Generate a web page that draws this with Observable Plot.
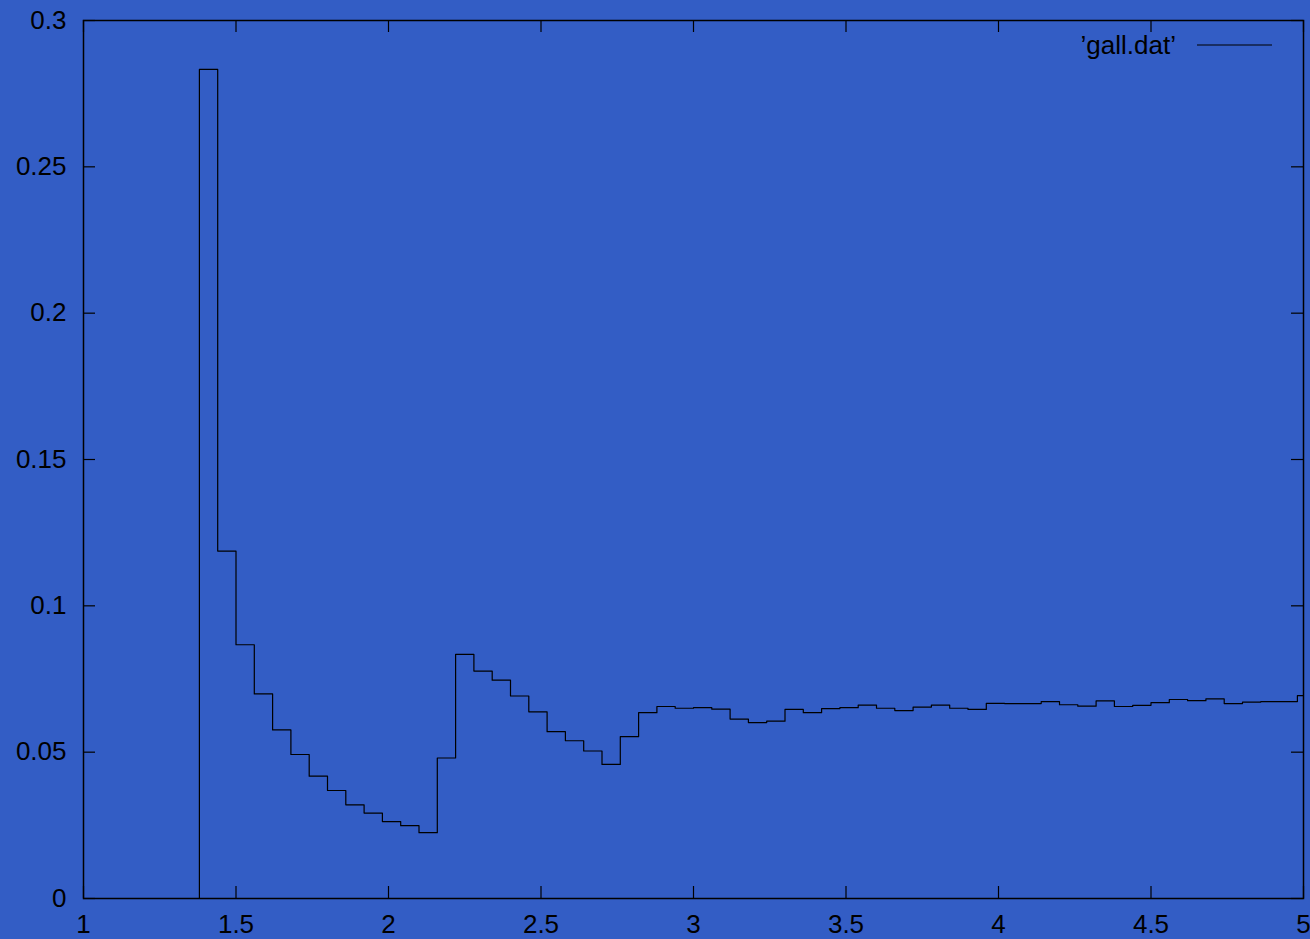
<!DOCTYPE html>
<html>
<head>
<meta charset="utf-8">
<script src="https://cdn.jsdelivr.net/npm/d3@7"></script>
<script src="https://cdn.jsdelivr.net/npm/@observablehq/plot@0.6"></script>
<style>
  html, body { margin: 0; padding: 0; background: #335dc5; }
  #chart svg { display: block; }
</style>
</head>
<body>
<div id="chart"></div>
<script>
// Histogram bin left edges (x) and heights (y)
const binStarts = [
  1.38, 1.44, 1.50, 1.56, 1.62, 1.68, 1.74, 1.80, 1.86, 1.92,
  1.98, 2.04, 2.10, 2.16, 2.22, 2.28, 2.34, 2.40, 2.46, 2.52,
  2.58, 2.64, 2.70, 2.76, 2.82, 2.88, 2.94, 3.00, 3.06, 3.12,
  3.18, 3.24, 3.30, 3.36, 3.42, 3.48, 3.54, 3.60, 3.66, 3.72,
  3.78, 3.84, 3.90, 3.96, 4.02, 4.08, 4.14, 4.20, 4.26, 4.32,
  4.38, 4.44, 4.50, 4.56, 4.62, 4.68, 4.74, 4.80, 4.86, 4.92,
  4.98
];
const binValues = [
  0.2833, 0.1187, 0.0867, 0.0699, 0.0576, 0.0492, 0.0418, 0.0369, 0.0320, 0.0292,
  0.0263, 0.0249, 0.0225, 0.0480, 0.0834, 0.0777, 0.0746, 0.0692, 0.0638, 0.0570,
  0.0539, 0.0504, 0.0458, 0.0553, 0.0635, 0.0656, 0.0650, 0.0652, 0.0647, 0.0613,
  0.0601, 0.0606, 0.0646, 0.0635, 0.0649, 0.0652, 0.0661, 0.0650, 0.0642, 0.0654,
  0.0661, 0.0650, 0.0646, 0.0667, 0.0666, 0.0666, 0.0673, 0.0662, 0.0657, 0.0675,
  0.0656, 0.0660, 0.0669, 0.0680, 0.0676, 0.0682, 0.0666, 0.0671, 0.0673, 0.0673,
  0.0693
];
const xDomain = [1, 5];
const yDomain = [0, 0.3];
const xTicks = [1, 1.5, 2, 2.5, 3, 3.5, 4, 4.5, 5];
const yTicks = [0, 0.05, 0.1, 0.15, 0.2, 0.25, 0.3];
const seriesName = "\u2019gall.dat\u2019";

// Build step path: rise from zero at first edge, then each bin, extended to x-domain end
const steps = [{x: binStarts[0], y: 0}];
binStarts.forEach((x, i) => steps.push({x, y: binValues[i]}));
steps.push({x: xDomain[1], y: binValues[binValues.length - 1]});

const FONT = "'Liberation Sans', Arial, Helvetica, sans-serif";

const legend = (index, scales, values, dims) => {
  const g = d3.create("svg:g");
  const right = dims.width - dims.marginRight;
  const yy = dims.marginTop + 25;
  g.append("text")
    .attr("x", right - 127)
    .attr("y", yy + 1)
    .attr("dy", "0.32em")
    .attr("text-anchor", "end")
    .attr("font-family", FONT)
    .attr("font-size", 26)
    .attr("fill", "black")
    .text(seriesName);
  g.append("line")
    .attr("x1", right - 106)
    .attr("x2", right - 31)
    .attr("y1", yy)
    .attr("y2", yy)
    .attr("stroke", "black")
    .attr("stroke-width", 1.2);
  return g.node();
};

const chart = Plot.plot({
  width: 1310,
  height: 939,
  marginLeft: 83,
  marginRight: 7,
  marginTop: 20,
  marginBottom: 41,
  style: {background: "#335dc5", fontFamily: FONT, fontSize: "26px", color: "black"},
  x: {domain: xDomain, label: null},
  y: {domain: yDomain, label: null},
  marks: [
    Plot.axisX({ticks: xTicks, tickSize: 0, tickPadding: 16, tickFormat: d => String(d), fontSize: 26, label: null}),
    Plot.axisY({ticks: yTicks, tickSize: 0, tickPadding: 17, tickFormat: d => String(d), fontSize: 26, label: null}),
    // inward tick marks on all four sides
    Plot.ruleX(xTicks, {x: d => d, y1: yDomain[0], y2: yDomain[0], insetBottom: 12, stroke: "black", strokeWidth: 1.2}),
    Plot.ruleX(xTicks, {x: d => d, y1: yDomain[1], y2: yDomain[1], insetTop: 12, stroke: "black", strokeWidth: 1.2}),
    Plot.ruleY(yTicks, {y: d => d, x1: xDomain[0], x2: xDomain[0], insetRight: -12, stroke: "black", strokeWidth: 1.2}),
    Plot.ruleY(yTicks, {y: d => d, x1: xDomain[1], x2: xDomain[1], insetLeft: -12, stroke: "black", strokeWidth: 1.2}),
    Plot.line(steps, {x: "x", y: "y", curve: "step-after", stroke: "black", strokeWidth: 1.2}),
    Plot.frame({stroke: "black", strokeWidth: 1.5}),
    legend
  ]
});
document.getElementById("chart").appendChild(chart);
</script>
</body>
</html>
